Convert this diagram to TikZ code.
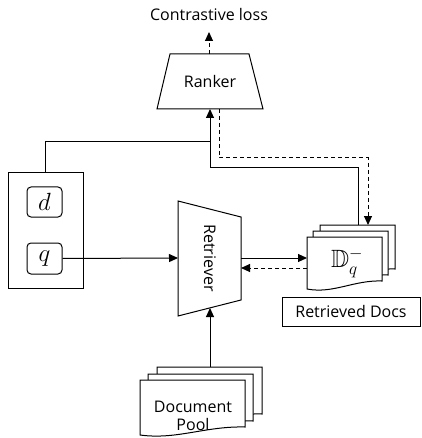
\documentclass[tikz,border=0pt]{standalone}
\usepackage{amssymb}
\usepackage{fontspec}
\setmainfont{Open Sans}
\usetikzlibrary{arrows.meta}
\tikzset{
  line/.style={line width=1pt},
  tip/.style={-{Triangle[length=9pt,width=8pt]}},
  dsh/.style={dash pattern=on 4pt off 3pt},
  lbl/.style={font=\fontsize{16}{18}\selectfont},
  mth/.style={font=\fontsize{23}{26}\selectfont},
  shp/.style={draw, line width=1pt, fill=white},
}
\newcommand\docpath[4]{%
  \path[shp] (#1,#2) -- ({#1+#3},#2) -- ({#1+#3},{#2+#4-8})
    .. controls ({#1+0.62*#3},{#2+#4-9}) and ({#1+0.35*#3},{#2+#4+5}) .. (#1,{#2+#4}) -- cycle;}
\begin{document}
\begin{tikzpicture}[x=1pt,y=-1pt]
\useasboundingbox (0,0) rectangle (421,438);
% top label and ranker
\node[lbl] (loss) at (209,15) {Contrastive loss};
\coordinate (lossArr) at (209,32);
\path[shp] (170,54) -- (249,54) -- (263,109) -- (157,109) -- cycle;
\node[lbl] (ranker) at (210,82) {Ranker};
\coordinate (rkT) at (209,54);
\coordinate (rkB1) at (210,109);
\coordinate (rkB2) at (219,109);
% input box
\node[draw,line,minimum width=75pt,minimum height=115pt,inner sep=0] (inbox) at (45.5,230.5) {};
\node[draw,line,rounded corners=4pt,minimum width=35pt,minimum height=30pt,inner sep=0,mth] (d) at (44.5,202) {$d$};
\node[draw,line,rounded corners=4pt,minimum width=35pt,minimum height=31pt,inner sep=0,mth] (q) at (44.5,258.5) {$q$};
% retriever
\path[shp] (178,201) -- (241,217) -- (241,300) -- (178,316) -- cycle;
\node[lbl,rotate=-90] (retriever) at (210,258) {Retriever};
\coordinate (retL) at (178,258);
\coordinate (retR1) at (241,258);
\coordinate (retR2) at (241,268);
\coordinate (retB) at (210,308);
% retrieved docs stack
\docpath{320}{225}{75}{52}
\docpath{313}{231}{75}{52}
\docpath{307}{237}{75}{52}
\node[font=\fontsize{25}{28}\selectfont] (dq) at (347,264) {$\mathbb{D}_{q}^{\smash{-}}$};
\coordinate (dqL1) at (307,258);
\coordinate (dqL2) at (307,268);
\coordinate (docT) at (358,225);
\coordinate (docT2) at (368,225);
\node[draw,line,minimum width=138pt,minimum height=29pt,inner sep=0,lbl] (rd) at (351,311.5) {Retrieved Docs};
% document pool stack
\docpath{157}{367}{105}{55}
\docpath{148}{374}{105}{55}
\docpath{140}{380}{105}{55}
\node[lbl,align=center] (pool) at (193,416) {Document\\Pool};
\coordinate (poolT) at (210,367);
% connectors
\coordinate (jn) at (210,142);
\coordinate (jn2) at (210,168);
\coordinate (dc) at (368,158);
\draw[line,dsh,tip] (rkT) -- (lossArr);
\draw[line,tip] (inbox.north) |- (jn) -- (rkB1);
\draw[line] (docT) |- (jn2) -- (jn);
\draw[line,dsh,tip] (rkB2) |- (dc) -- (docT2);
\draw[line,tip] (q.east) -- (retL);
\draw[line,tip] (retR1) -- (dqL1);
\draw[line,dsh,tip] (dqL2) -- (retR2);
\draw[line,tip] (poolT) -- (retB);
\end{tikzpicture}
\end{document}
